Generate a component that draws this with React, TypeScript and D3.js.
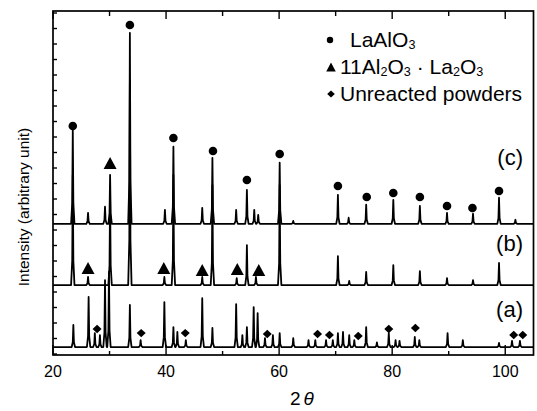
import React from 'react';
import * as d3 from 'd3';

const W = 537;
const H = 411;

// axis
const xMajorTicks = [20, 40, 60, 80, 100];
const xMinorTicks = [30, 50, 70, 90];
const yTicks = d3.range(0, 2201, 100);
const xLabel = '2';
const xLabelTheta = 'θ';
const yLabel = 'Intensity (arbitrary unit)';

// trace offsets (arbitrary counts) for (a), (b), (c)
const traceNames = ['(a)', '(b)', '(c)'];
const traceOffsets = [45, 445, 840];

// peaks: [2theta, height above baseline]
const peaksA: [number, number][] = [
  [23.6, 142], [26.3, 323], [27.4, 90], [28.3, 77], [29.2, 432], [29.9, 484],
  [33.6, 271], [35.5, 45], [39.7, 290], [41.3, 129], [42.0, 97], [43.5, 45],
  [46.4, 316], [48.2, 123], [52.4, 277], [53.5, 77], [54.3, 129], [55.5, 258],
  [56.2, 219], [57.5, 58], [58.9, 77], [60.1, 90], [62.5, 58], [65.2, 45],
  [66.4, 45], [68.3, 45], [69.5, 45], [70.4, 90], [71.3, 97], [72.4, 77],
  [73.3, 45], [75.4, 129], [77.3, 30], [79.4, 90], [80.6, 45], [81.3, 40],
  [84.0, 65], [84.8, 45], [89.8, 90], [92.5, 45], [98.9, 26], [101.2, 40],
  [102.6, 40],
];
const peaksB: [number, number][] = [
  [23.5, 710], [26.2, 52], [30.1, 581], [33.6, 1323], [39.7, 52], [41.3, 710],
  [46.4, 52], [48.2, 645], [52.5, 45], [54.3, 258], [55.9, 52], [60.1, 645],
  [70.4, 187], [72.4, 26], [75.4, 84], [80.2, 129], [84.9, 90], [89.7, 45],
  [94.3, 32], [98.9, 142],
];
const peaksC: [number, number][] = [
  [23.5, 606], [26.2, 71], [29.2, 110], [30.1, 316], [33.6, 1232], [39.8, 90],
  [41.3, 497], [46.4, 103], [48.2, 426], [52.4, 90], [54.3, 219], [55.6, 90],
  [56.3, 58], [60.1, 394], [62.5, 19], [70.4, 187], [72.3, 39], [75.4, 123],
  [80.2, 155], [84.9, 116], [89.7, 71], [94.3, 65], [98.9, 168], [101.8, 26],
];

// phase markers: [2theta, intensity]
const circleMarks: [number, number][] = [
  [23.5, 1471], [33.6, 2123], [41.3, 1394], [48.3, 1310], [54.3, 1123],
  [60.1, 1290], [70.4, 1084], [75.5, 1013], [80.2, 1039], [84.9, 1013],
  [89.7, 955], [94.2, 942], [98.9, 1052],
];
const triangleMarks: [number, number][] = [
  [30.1, 1232], [26.2, 555], [39.6, 555], [46.4, 542], [52.6, 548], [56.4, 542],
];
const diamondMarks: [number, number][] = [
  [27.8, 161], [35.6, 135], [43.4, 135], [57.9, 129], [66.8, 129], [68.9, 123],
  [74.0, 116], [79.4, 161], [84.1, 168], [101.5, 123], [103.1, 123],
];

const legendLabels = ['LaAlO_3', '11Al_2O_3 · La_2O_3', 'Unreacted powders'];
const legendKinds = ['circle', 'triangle', 'diamond'];

const FONT = '"Liberation Sans", Arial, Helvetica, sans-serif';

const x = d3.scaleLinear().domain([20, 105]).range([53, 533.5]);
const y = d3.scaleLinear().domain([0, 2213]).range([354, 11]);

function tracePath(peaks: [number, number][], off: number): string {
  const pts: [number, number][] = [[20, off]];
  const sorted = [...peaks].sort((a, b) => a[0] - b[0]);
  for (const [p, h] of sorted) {
    pts.push([p - 0.3, off], [p - 0.1, off + 0.22 * h], [p, off + h], [p + 0.1, off + 0.22 * h], [p + 0.3, off]);
  }
  pts.push([105, off]);
  const line = d3.line<[number, number]>().x((d) => x(d[0])).y((d) => y(d[1]));
  return line(pts) || '';
}

function triPath(cx: number, cy: number, w: number, h: number) {
  return `M${cx - w / 2},${cy + h / 2}L${cx},${cy - h / 2}L${cx + w / 2},${cy + h / 2}Z`;
}
function diaPath(cx: number, cy: number, rx: number, ry: number) {
  return `M${cx - rx},${cy}L${cx},${cy - ry}L${cx + rx},${cy}L${cx},${cy + ry}Z`;
}

function Chem({ text }: { text: string }) {
  const parts: React.ReactNode[] = [];
  let i = 0;
  let k = 0;
  let wasSub = false;
  while (i < text.length) {
    if (text[i] === '_') {
      parts.push(
        <tspan key={k++} fontSize="0.6em" dy={2}>
          {text[i + 1]}
        </tspan>
      );
      wasSub = true;
      i += 2;
    } else {
      let j = i;
      while (j < text.length && text[j] !== '_') j++;
      parts.push(
        <tspan key={k++} dy={wasSub ? -2 : 0}>
          {text.slice(i, j)}
        </tspan>
      );
      wasSub = false;
      i = j;
    }
  }
  return <>{parts}</>;
}

export default function App() {
  const labelY = [317, 251, 165];
  const legendY = [47, 74, 101];
  return (
    <svg
      width={W}
      height={H}
      viewBox={`0 0 ${W} ${H}`}
      style={{ position: 'absolute', left: 0, top: 0, background: '#fff' }}
      fontFamily={FONT}
    >
      <defs>
        <clipPath id="plotclip">
          <rect x={53} y={11} width={480.5} height={344} />
        </clipPath>
      </defs>
      <rect x={0} y={0} width={W} height={H} fill="#fff" />

      {/* traces */}
      <g clipPath="url(#plotclip)" fill="none" stroke="#000" strokeWidth={1.8} strokeLinejoin="round">
        {[peaksA, peaksB, peaksC].map((pk, i) => (
          <path key={i} d={tracePath(pk, traceOffsets[i])} />
        ))}
      </g>

      {/* markers */}
      <g fill="#000">
        {circleMarks.map(([p, v], i) => (
          <circle key={'c' + i} cx={x(p)} cy={y(v)} r={4.3} />
        ))}
        {triangleMarks.map(([p, v], i) => (
          <path key={'t' + i} d={triPath(x(p), y(v), 13, 12)} />
        ))}
        {diamondMarks.map(([p, v], i) => (
          <path key={'d' + i} d={diaPath(x(p), y(v), 4.5, 4.2)} />
        ))}
      </g>

      {/* frame */}
      <rect x={53} y={11} width={480.5} height={344} fill="none" stroke="#000" strokeWidth={1.7} />

      {/* ticks */}
      <g stroke="#000" strokeWidth={1.4}>
        {xMajorTicks.map((t) => (
          <g key={'M' + t}>
            <line x1={x(t)} x2={x(t)} y1={355} y2={345} />
            <line x1={x(t)} x2={x(t)} y1={11} y2={19} />
          </g>
        ))}
        {xMinorTicks.map((t) => (
          <g key={'m' + t}>
            <line x1={x(t)} x2={x(t)} y1={355} y2={351} />
            <line x1={x(t)} x2={x(t)} y1={11} y2={16} />
          </g>
        ))}
        {yTicks.map((t) => (
          <line key={'y' + t} x1={53} x2={57} y1={y(t)} y2={y(t)} />
        ))}
      </g>

      {/* tick labels */}
      <g fontSize={16} textAnchor="middle" fill="#000">
        {xMajorTicks.map((t) => (
          <text key={'l' + t} x={x(t)} y={377}>
            {String(t)}
          </text>
        ))}
      </g>

      {/* axis titles */}
      <text x={290} y={405} fontSize={19} fill="#000">
        {xLabel}
        <tspan dx={3} fontStyle="italic">
          {xLabelTheta}
        </tspan>
      </text>
      <text transform="translate(29,207) rotate(-90)" textAnchor="middle" fontSize={15.5} fill="#000">
        {yLabel}
      </text>

      {/* trace labels */}
      <g fontSize={22} textAnchor="end" fill="#000">
        {traceNames.map((n, i) => (
          <text key={n} x={523} y={labelY[i]}>
            {n}
          </text>
        ))}
      </g>

      {/* legend */}
      <g fill="#000">
        {legendLabels.map((lab, i) => {
          const cy = legendY[i] - 7;
          const kind = legendKinds[i];
          return (
            <g key={lab}>
              {kind === 'circle' && <circle cx={330} cy={cy} r={3.2} />}
              {kind === 'triangle' && <path d={triPath(331, cy, 9.5, 9)} />}
              {kind === 'diamond' && <path d={diaPath(331, cy, 3.8, 3.6)} />}
              <text x={i === 0 ? 350 : 340} y={legendY[i]} fontSize={21}>
                <Chem text={lab} />
              </text>
            </g>
          );
        })}
      </g>
    </svg>
  );
}
